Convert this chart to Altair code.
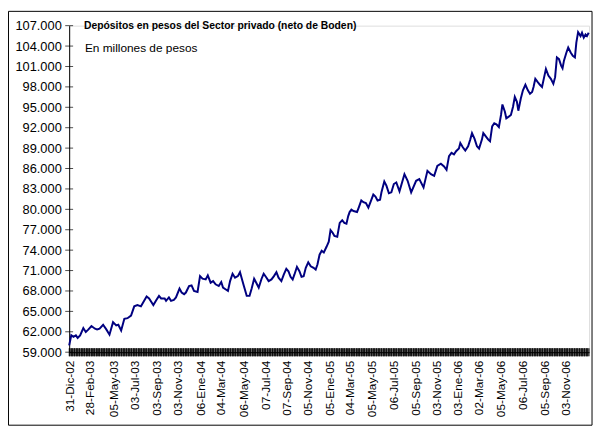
import altair as alt
import pandas as pd

# ---------------- datos ----------------
inicio = "2002-12-31"
fin = "2007-01-09"

# días transcurridos desde el 31-Dic-02 (lectura del gráfico)
dias = [
    0, 6, 12, 19, 24, 31, 40, 47, 54, 63, 73, 79, 86, 96, 105, 114, 124, 133, 139, 147,
    156, 165, 175, 184, 193, 203, 212, 219, 226, 232, 238, 247, 254, 260, 270, 274, 282, 288, 296, 302,
    312, 318, 325, 330, 339, 346, 353, 363, 370, 377, 386, 392, 400, 407, 414, 423, 430, 435, 442, 449,
    455, 462, 469, 477, 483, 490, 494, 502, 510, 516, 523, 530, 536, 544, 550, 558, 564, 572, 579, 586,
    592, 600, 607, 614, 620, 626, 632, 637, 644, 651, 657, 663, 669, 676, 683, 691, 697, 702, 708, 714,
    720, 728, 734, 739, 745, 750, 758, 765, 772, 778, 784, 789, 793, 798, 804, 814, 820, 826, 832, 839,
    846, 853, 860, 866, 872, 879, 883, 891, 897, 904, 911, 918, 925, 934, 948, 957, 967, 981, 990, 1002,
    1013, 1023, 1032, 1041, 1051, 1060, 1067, 1074, 1081, 1088, 1094, 1102, 1106, 1113, 1120, 1128, 1134, 1139, 1146, 1153,
    1159, 1167, 1171, 1178, 1185, 1190, 1196, 1202, 1208, 1215, 1221, 1225, 1232, 1236, 1243, 1249, 1255, 1260, 1266, 1270,
    1277, 1283, 1290, 1297, 1303, 1309, 1313, 1318, 1325, 1331, 1337, 1343, 1348, 1355, 1362, 1369, 1374, 1379, 1385, 1391,
    1395, 1399, 1406, 1411, 1418, 1424, 1430, 1434, 1439, 1446, 1450, 1455, 1460, 1464, 1469,
]

# depósitos en millones de pesos
depositos = [
    60000, 61480, 61250, 61480, 61100, 61480, 62550, 61970, 62310, 62840, 62450, 62350, 62450, 63030, 62350, 61580, 63420, 62930, 63030, 62200,
    63900, 64000, 64380, 65740, 65930, 65740, 66550, 67190, 66900, 66410, 65930, 66700, 67280, 66900, 66900, 66550, 67050, 66550, 66700, 67050,
    68350, 67770, 67530, 67770, 68730, 68830, 68000, 67860, 70180, 69800, 69700, 70280, 69220, 69450, 68980, 68730, 69310, 68500, 68250, 68000,
    69450, 70530, 69950, 70180, 70760, 69450, 68730, 67280, 67280, 68350, 69800, 69100, 68500, 69800, 70530, 69950, 69450, 69700, 70180, 70760,
    69950, 69450, 70430, 71250, 70900, 70090, 69700, 70430, 71540, 70900, 70090, 70180, 71400, 72210, 71630, 71400, 71150, 71880, 73330, 73910,
    73660, 74530, 75250, 76950, 76560, 76080, 75980, 78010, 78400, 78010, 77900, 79000, 79600, 79950, 79750, 79600, 80430, 81300, 81050, 80910,
    80240, 81200, 82170, 81880, 81300, 81400, 82500, 84100, 83480, 82360, 82500, 83720, 83950, 82650, 85170, 84200, 82500, 84200, 84450, 83230,
    85650, 85170, 84930, 86380, 86710, 86300, 85800, 87830, 88300, 88070, 88550, 88940, 89750, 89130, 88650, 89280, 90250, 91200, 90390, 89280,
    88940, 90250, 91200, 90730, 90250, 90000, 92180, 92650, 92510, 92100, 93870, 95410, 94350, 93380, 93630, 93870, 95080, 96530, 95800, 94500,
    96300, 97500, 98310, 97500, 97000, 97250, 97980, 99180, 98700, 98310, 97980, 99430, 100630, 99670, 99180, 98450, 99430, 102330, 102080, 101120,
    100730, 101850, 103050, 103780, 103050, 102570, 102330, 104500, 106050, 105470, 105950, 105230, 105700, 105470, 105950,
]

etiquetas_x = [
    "31-Dic-02", "28-Feb-03", "05-May-03", "03-Jul-03", "03-Sep-03", "03-Nov-03",
    "06-Ene-04", "04-Mar-04", "06-May-04", "07-Jul-04", "07-Sep-04", "05-Nov-04",
    "05-Ene-05", "04-Mar-05", "05-May-05", "06-Jul-05", "05-Sep-05", "03-Nov-05",
    "03-Ene-06", "02-Mar-06", "05-May-06", "06-Jul-06", "05-Sep-06", "03-Nov-06",
]
meses_abr = ["Ene", "Feb", "Mar", "Abr", "May", "Jun", "Jul", "Ago", "Sep", "Oct", "Nov", "Dic"]
valores_y = list(range(59000, 107001, 3000))

titulo = "Depósitos en pesos del Sector privado (neto de Boden)"
subtitulo = "En millones de pesos"

# ---------------- tablas ----------------
def a_fecha(s):
    d, m, y = s.split("-")
    return alt.DateTime(year=2000 + int(y), month=meses_abr.index(m) + 1, date=int(d))

fechas = pd.Timestamp(inicio) + pd.to_timedelta(dias, unit="D")
df = pd.DataFrame({"fecha": fechas, "valor": depositos})
df_cat = pd.DataFrame({"fecha": pd.bdate_range(inicio, fin)})
df_y = pd.DataFrame({"valor": valores_y})
uno = pd.DataFrame({"k": [0]})

FONT = "Liberation Sans"
W, H = 527, 331

x_scale = alt.Scale(domain=[a_fecha("31-Dic-02"), alt.DateTime(year=2007, month=1, date=9)])
y_scale = alt.Scale(domain=[59000, 107000], nice=False, zero=False)

meses_js = "[" + ",".join("'%s'" % m for m in meses_abr) + "]"
x_axis = alt.Axis(
    values=[a_fecha(s) for s in etiquetas_x],
    labelExpr="timeFormat(datum.value, '%d') + '-' + " + meses_js + "[month(datum.value)] + '-' + timeFormat(datum.value, '%y')",
    labelAngle=270, labelAlign="right", labelBaseline="middle", labelPadding=8,
    ticks=False, grid=False, title=None, labelOverlap=False, labelFlush=False,
    labelFont=FONT, labelFontSize=12, labelColor="black", domainColor="black",
)
y_axis = alt.Axis(
    values=valores_y,
    labelExpr="replace(format(datum.value, ',.0f'), ',', '.')",
    ticks=False, grid=False, title=None, labelPadding=8, labelOverlap=False,
    labelFont=FONT, labelFontSize=13, labelColor="black", domainColor="black",
)

borde = alt.Chart(uno).mark_rect(fillOpacity=0, stroke="black", strokeWidth=1).encode(
    x=alt.value(-61.5), x2=alt.value(530), y=alt.value(-14.5), y2=alt.value(405)
)

banda = alt.Chart(df_cat).mark_tick(orient="vertical", color="black", size=8, thickness=1).encode(
    x=alt.X("fecha:T", scale=x_scale, axis=x_axis),
    y=alt.value(H),
)

marcas_y = alt.Chart(df_y).mark_tick(orient="horizontal", color="black", size=8, thickness=1).encode(
    y=alt.Y("valor:Q", scale=y_scale, axis=y_axis),
    x=alt.value(0),
)

linea = alt.Chart(df).mark_line(color="#000080", strokeWidth=2).encode(
    x=alt.X("fecha:T", scale=x_scale, axis=x_axis),
    y=alt.Y("valor:Q", scale=y_scale, axis=y_axis),
)

t1 = alt.Chart(uno).mark_text(
    text=titulo, font=FONT, fontSize=10.5, fontWeight="bold", align="left", baseline="middle", color="black"
).encode(x=alt.value(15), y=alt.value(0))

t2 = alt.Chart(uno).mark_text(
    text=subtitulo, font=FONT, fontSize=12, align="left", baseline="middle", color="black"
).encode(x=alt.value(16), y=alt.value(23))

chart = alt.layer(borde, banda, marcas_y, linea, t1, t2).properties(
    width=W, height=H,
    autosize=alt.AutoSizeParams(type="none"),
    padding={"left": 62, "top": 15, "right": 5, "bottom": 78},
).configure_view(stroke=None).configure(background="white")

chart.save("out.html", embed_options={"renderer": "svg", "actions": False})
